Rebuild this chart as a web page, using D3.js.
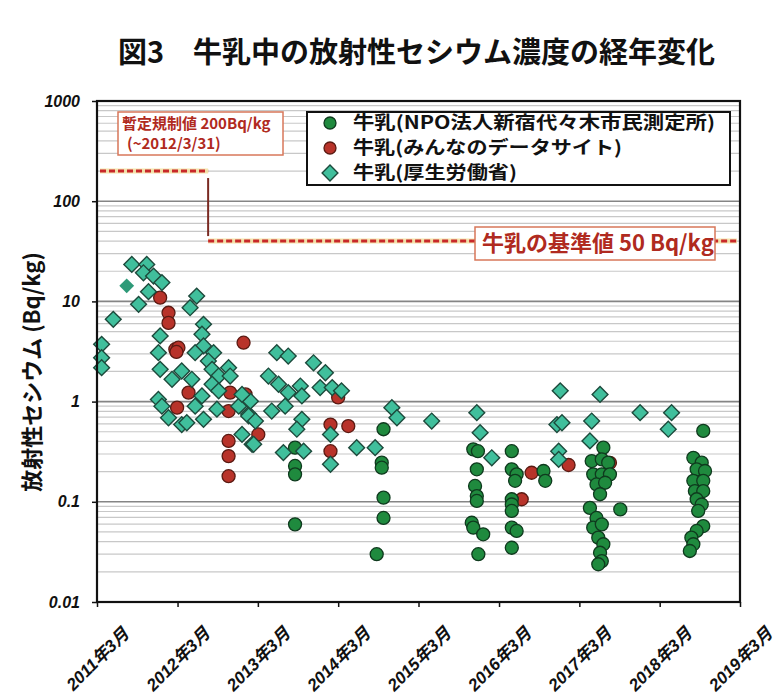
<!DOCTYPE html>
<html lang="ja">
<head>
<meta charset="UTF-8">
<title>牛乳中の放射性セシウム濃度の経年変化</title>
<script src="https://d3js.org/d3.v7.min.js"></script>
<style>
    body { margin: 0; background: #fff; }
    svg { display: block; }
    .tick-y text, .tick-x text {
        font-family: "Liberation Sans", "Noto Sans CJK JP", sans-serif;
        font-weight: bold;
        font-style: italic;
        fill: #111;
    }
    .tick-y text { font-size: 16px; }
    .tick-x text { font-size: 17px; }
    .jp { font-family: "Noto Sans CJK JP", sans-serif; }
</style>
</head>
<body>
<svg width="779" height="700"></svg>
<script>
// ---- data ----
const xTickDates = ["2011-03-01","2012-03-01","2013-03-01","2014-03-01","2015-03-01",
                    "2016-03-01","2017-03-01","2018-03-01","2019-03-01"];
const xTickLabels = ["2011年3月","2012年3月","2013年3月","2014年3月","2015年3月",
                     "2016年3月","2017年3月","2018年3月","2019年3月"];
const yTickValues = [0.01, 0.1, 1, 10, 100, 1000];
const seriesNames = ["牛乳(NPO法人新宿代々木市民測定所)", "牛乳(みんなのデータサイト)", "牛乳(厚生労働省)"];

// 牛乳 (NPO法人新宿代々木市民測定所) [date, Bq/kg]
const npoData = [
    ["2013-08-17",0.347],["2013-08-17",0.228],["2013-08-17",0.188],["2013-08-17",0.0596],
    ["2014-09-23",0.53],["2014-09-15",0.246],["2014-09-15",0.219],["2014-09-23",0.11],
    ["2014-09-23",0.069],["2014-08-23",0.030],
    ["2015-11-05",0.334],["2015-11-26",0.32],["2015-11-21",0.211],["2015-11-13",0.144],
    ["2015-11-21",0.114],["2015-11-21",0.102],["2015-10-29",0.0618],["2015-11-05",0.0552],
    ["2015-12-20",0.0474],["2015-11-28",0.030],
    ["2016-04-28",0.32],["2016-04-28",0.211],["2016-05-20",0.188],["2016-05-13",0.162],
    ["2016-04-28",0.106],["2016-04-28",0.094],["2016-04-28",0.081],["2016-04-28",0.0552],
    ["2016-05-20",0.0512],["2016-04-28",0.0348],["2016-09-19",0.203],["2016-09-27",0.162],
    ["2017-06-18",0.347],["2017-04-26",0.255],["2017-06-11",0.265],["2017-07-10",0.246],
    ["2017-05-03",0.188],["2017-06-11",0.188],["2017-07-18",0.188],["2017-05-18",0.149],
    ["2017-06-26",0.155],["2017-06-03",0.119],["2017-09-03",0.084],["2017-04-18",0.087],
    ["2017-05-18",0.069],["2017-05-03",0.0552],["2017-06-11",0.0596],["2017-05-26",0.0439],
    ["2017-06-18",0.0377],["2017-06-03",0.031],["2017-06-11",0.0256],["2017-05-26",0.0238],
    ["2018-09-15",0.51],["2018-08-01",0.275],["2018-09-08",0.246],["2018-08-16",0.211],
    ["2018-09-23",0.203],["2018-08-01",0.162],["2018-09-15",0.162],["2018-08-08",0.128],
    ["2018-09-15",0.128],["2018-08-16",0.106],["2018-09-08",0.094],["2018-08-23",0.081],
    ["2018-09-15",0.0573],["2018-08-16",0.0512],["2018-07-23",0.0439],["2018-08-01",0.0377],
    ["2018-07-16",0.0323]
];

// 牛乳 (みんなのデータサイト)
const minnaData = [
    ["2011-12-13",10.9],["2012-01-20",7.7],["2012-01-20",6.1],["2012-02-20",3.33],
    ["2012-03-05",3.45],["2012-02-25",3.13],["2012-12-26",3.87],["2012-04-20",1.23],
    ["2012-02-28",0.87],["2012-10-26",1.23],["2013-01-04",1.18],["2012-10-19",0.805],
    ["2013-03-03",0.47],["2012-10-19",0.405],["2012-10-19",0.286],["2012-10-19",0.18],
    ["2014-03-01",1.10],["2014-01-25",0.59],["2014-04-16",0.57],["2014-01-25",0.32],
    ["2016-06-12",0.106],["2016-07-27",0.195],["2017-01-11",0.233],["2017-07-18",0.245]
];

// 牛乳 (厚生労働省)
const mhlwData = [
    ["2011-03-22",3.73],["2011-03-22",2.74],["2011-03-22",2.18],["2011-05-14",6.62],
    ["2011-08-06",23.4],["2011-10-13",23.4],["2011-09-28",19.3],
    ["2011-11-13",17.9],["2011-12-21",15.4],["2011-10-21",12.5],["2011-09-06",9.35],
    ["2012-05-27",11.3],["2012-04-27",8.65],["2011-12-13",4.52],["2012-06-27",5.9],
    ["2012-06-20",4.7],["2012-06-27",3.59],["2012-05-20",3.08],["2011-12-05",3.08],
    ["2012-08-12",3.08],["2012-07-19",2.54],["2011-12-13",2.10],["2012-02-05",1.67],
    ["2012-03-20",2.02],["2012-05-05",1.67],["2012-08-05",2.10],["2012-09-04",1.80],
    ["2012-10-19",2.18],["2012-10-26",1.80],["2012-08-05",1.49],["2012-09-04",1.28],
    ["2012-06-20",1.14],["2012-05-20",0.90],["2011-12-05",1.05],["2011-12-21",0.90],
    ["2012-01-20",0.69],["2012-03-20",0.59],["2012-04-12",0.615],["2012-06-27",0.665],
    ["2012-08-27",0.84],["2012-12-04",0.90],["2013-01-18",0.75],["2012-12-19",0.47],
    ["2013-02-03",0.375],["2013-01-26",1.01],["2013-05-26",3.08],["2013-07-17",2.85],
    ["2013-11-09",2.44],["2014-01-02",1.94],["2013-04-18",1.80],["2013-06-03",1.49],
    ["2013-07-17",1.23],["2013-09-10",1.43],["2013-09-17",1.14],["2013-12-09",1.38],
    ["2014-02-02",1.38],["2014-03-16",1.28],["2013-07-03",0.90],["2013-05-03",0.805],
    ["2013-09-17",0.665],["2013-08-25",0.53],["2012-12-19",1.18],["2013-01-18",0.72],
    ["2013-02-18",0.64],["2013-02-10",0.375],["2013-06-25",0.31],["2013-09-25",0.32],
    ["2014-01-25",0.47],["2014-01-25",0.237],["2014-05-24",0.347],["2014-08-16",0.347],
    ["2014-10-31",0.87],["2014-11-23",0.69],["2015-04-30",0.64],["2015-11-21",0.775],
    ["2015-12-06",0.49],["2016-01-28",0.275],["2016-12-04",1.28],["2016-11-19",0.59],
    ["2016-12-12",0.615],["2016-11-27",0.32],["2016-11-27",0.265],["2017-06-03",1.18],
    ["2017-04-26",0.64],["2017-04-18",0.405],["2017-12-02",0.775],["2018-04-24",0.775],
    ["2018-04-09",0.53]
];
// one MHLW point printed as a solid, borderless diamond
const mhlwSolidData = [["2011-07-14",14.3]];

// 規制値の段差線: 暫定規制値 → 基準値 (line heights as drawn)
const limitValues = [200, 40];
const limitChangeDate = "2012-07-18";
const limitEndDate = "2019-02-15";

// ---- layout ----
const parse = d3.timeParse("%Y-%m-%d");
const plot = { left: 97, right: 740, top: 101, bottom: 602 };

const svg = d3.select("svg");

const x = d3.scaleTime()
    .domain([parse(xTickDates[0]), parse(xTickDates[xTickDates.length - 1])])
    .range([plot.left, plot.right]);

const y = d3.scaleLog()
    .domain([0.01, 1000])
    .range([plot.bottom, plot.top]);

// title
svg.append("text")
    .attr("class", "jp")
    .attr("x", 118)
    .attr("y", 63)
    .style("font-size", "29px")
    .style("font-weight", "bold")
    .attr("fill", "#111")
    .text("図3　牛乳中の放射性セシウム濃度の経年変化");

// gridlines
const minor = [];
for (let e = -2; e < 3; e++) {
    for (let k = 2; k <= 9; k++) minor.push(k * Math.pow(10, e));
}
svg.append("g").selectAll("line")
    .data(minor)
    .enter()
    .append("line")
    .attr("x1", plot.left).attr("x2", plot.right)
    .attr("y1", d => y(d)).attr("y2", d => y(d))
    .attr("stroke", "#c8c8c8")
    .attr("stroke-width", 1.2);

svg.append("g").selectAll("line")
    .data(yTickValues.slice(1, -1))
    .enter()
    .append("line")
    .attr("x1", plot.left).attr("x2", plot.right)
    .attr("y1", d => y(d)).attr("y2", d => y(d))
    .attr("stroke", "#858585")
    .attr("stroke-width", 1.6);

// limit lines
const t0 = parse(xTickDates[0]);
const tc = parse(limitChangeDate);
const te = parse(limitEndDate);
function dashed(x1, x2, yy) {
    svg.append("line")
        .attr("x1", x1).attr("x2", x2).attr("y1", yy).attr("y2", yy)
        .attr("stroke", "#f3df9a").attr("stroke-width", 5).attr("opacity", 0.8);
    svg.append("line")
        .attr("x1", x1).attr("x2", x2).attr("y1", yy).attr("y2", yy)
        .attr("stroke", "#c8282a").attr("stroke-width", 3)
        .attr("stroke-dasharray", "6,3");
}
dashed(x(t0) + 3, x(tc), y(limitValues[0]));
dashed(x(tc), x(te), y(limitValues[1]));
svg.append("line")
    .attr("x1", x(tc)).attr("x2", x(tc))
    .attr("y1", y(limitValues[0]) + 7).attr("y2", y(limitValues[1]) - 5)
    .attr("stroke", "#7a2a22").attr("stroke-width", 2);

// annotation boxes
const note1 = svg.append("g");
note1.append("rect")
    .attr("x", 118).attr("y", 112).attr("width", 165).attr("height", 43)
    .attr("fill", "#fff").attr("stroke", "#d8775a").attr("stroke-width", 1.5);
note1.append("text")
    .attr("class", "jp")
    .attr("x", 122).attr("y", 129)
    .style("font-size", "15px").style("font-weight", "bold")
    .attr("fill", "#b02a20")
    .text("暫定規制値 200Bq/kg");
note1.append("text")
    .attr("class", "jp")
    .attr("x", 127).attr("y", 149)
    .style("font-size", "15px").style("font-weight", "bold")
    .attr("fill", "#b02a20")
    .text("(~2012/3/31)");

const note2 = svg.append("g");
note2.append("rect")
    .attr("x", 475).attr("y", 227).attr("width", 240).attr("height", 33)
    .attr("fill", "#fff").attr("stroke", "#d8775a").attr("stroke-width", 1.5);
note2.append("text")
    .attr("class", "jp")
    .attr("x", 482).attr("y", 251)
    .style("font-size", "22px").style("font-weight", "bold")
    .attr("fill", "#b02a20")
    .text("牛乳の基準値 50 Bq/kg");

// markers
const green = { fill: "#1f8a3e", stroke: "#0f3a1e" };
const red = { fill: "#b8332a", stroke: "#5a1a12" };
const teal = { fill: "#40bf9c", stroke: "#1d4a3c" };
const diamond = d3.symbol(d3.symbolSquare).size(125);

svg.append("g").selectAll("circle")
    .data(minnaData)
    .enter()
    .append("circle")
    .attr("cx", d => x(parse(d[0])))
    .attr("cy", d => y(d[1]))
    .attr("r", 6.5)
    .attr("fill", red.fill).attr("stroke", red.stroke).attr("stroke-width", 1.3);

svg.append("g").selectAll("circle")
    .data(npoData)
    .enter()
    .append("circle")
    .attr("cx", d => x(parse(d[0])))
    .attr("cy", d => y(d[1]))
    .attr("r", 6.5)
    .attr("fill", green.fill).attr("stroke", green.stroke).attr("stroke-width", 1.3);

svg.append("g").selectAll("path")
    .data(mhlwData)
    .enter()
    .append("path")
    .attr("d", diamond)
    .attr("transform", d => `translate(${x(parse(d[0]))},${y(d[1])}) rotate(45)`)
    .attr("fill", teal.fill).attr("stroke", teal.stroke).attr("stroke-width", 1.4);

svg.append("g").selectAll("path")
    .data(mhlwSolidData)
    .enter()
    .append("path")
    .attr("d", d3.symbol(d3.symbolSquare).size(110))
    .attr("transform", d => `translate(${x(parse(d[0]))},${y(d[1])}) rotate(45)`)
    .attr("fill", "#2e9a78");

// frame
svg.append("rect")
    .attr("x", plot.left).attr("y", plot.top)
    .attr("width", plot.right - plot.left).attr("height", plot.bottom - plot.top)
    .attr("fill", "none").attr("stroke", "#111").attr("stroke-width", 2.2);

// axes
const yAxis = svg.append("g")
    .attr("class", "tick-y")
    .attr("transform", `translate(${plot.left},0)`)
    .call(d3.axisLeft(y).tickValues(yTickValues).tickSize(5).tickPadding(12)
        .tickFormat(d => String(d)));
yAxis.select(".domain").remove();
yAxis.selectAll("line").attr("stroke", "#111").attr("stroke-width", 1.5);

const xAxis = svg.append("g")
    .attr("class", "tick-x")
    .attr("transform", `translate(0,${plot.bottom})`)
    .call(d3.axisBottom(x).tickValues(xTickDates.map(parse)).tickSize(5)
        .tickFormat((d, i) => xTickLabels[i]));
xAxis.select(".domain").remove();
xAxis.selectAll("line").attr("stroke", "#111").attr("stroke-width", 1.5);
xAxis.selectAll("text")
    .attr("y", 0).attr("dy", "0.35em")
    .attr("text-anchor", "middle")
    .attr("transform", "translate(0,57) rotate(-45)");

// y axis title
svg.append("text")
    .attr("class", "jp")
    .attr("transform", "translate(32,372) rotate(-90)")
    .attr("text-anchor", "middle")
    .attr("dy", "0.35em")
    .style("font-size", "22px").style("font-weight", "bold")
    .attr("fill", "#111")
    .text("放射性セシウム (Bq/kg)");

// legend
const legendWidths = [362, 269, 164];
const legend = svg.append("g");
legend.append("rect")
    .attr("x", 307).attr("y", 112).attr("width", 423).attr("height", 73)
    .attr("fill", "#fff").attr("stroke", "#111").attr("stroke-width", 2);
const legendRows = [green, red, teal];
legendRows.forEach((c, i) => {
    const ly = 123 + i * 25;
    if (i < 2) {
        legend.append("circle")
            .attr("cx", 330).attr("cy", ly).attr("r", 6)
            .attr("fill", c.fill).attr("stroke", c.stroke).attr("stroke-width", 1.3);
    } else {
        legend.append("path")
            .attr("d", diamond)
            .attr("transform", `translate(330,${ly}) rotate(45)`)
            .attr("fill", c.fill).attr("stroke", c.stroke).attr("stroke-width", 1.4);
    }
    legend.append("text")
        .attr("class", "jp")
        .attr("x", 353).attr("y", ly)
        .attr("dy", "0.36em")
        .attr("textLength", legendWidths[i])
        .attr("lengthAdjust", "spacingAndGlyphs")
        .style("font-size", "18px").style("font-weight", "bold")
        .attr("fill", "#111")
        .text(seriesNames[i]);
});
</script>
</body>
</html>
